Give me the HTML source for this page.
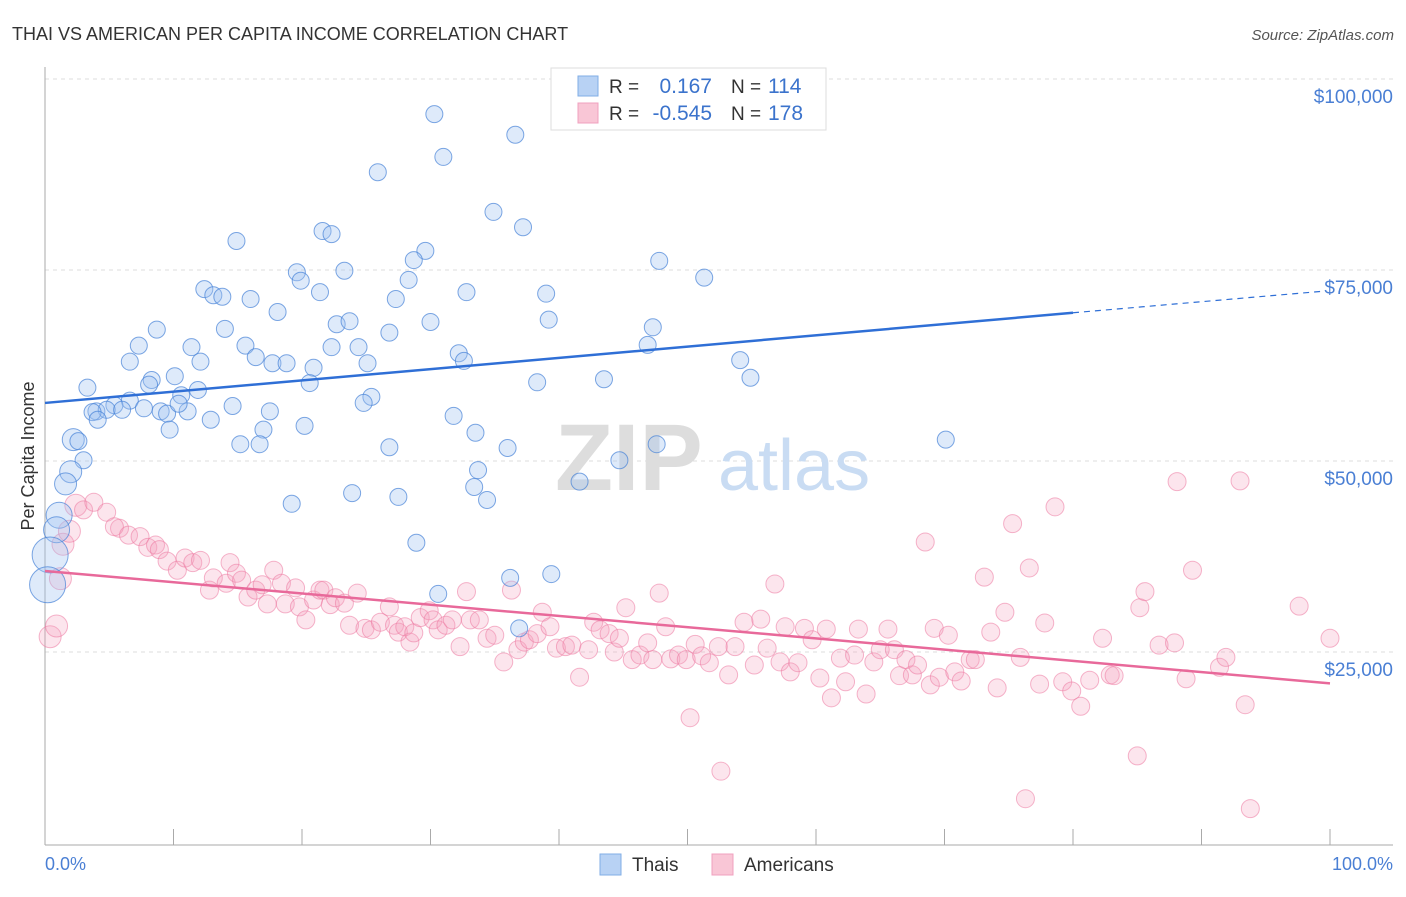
<!DOCTYPE html>
<html><head><meta charset="utf-8">
<style>
body{margin:0;background:#fff;font-family:"Liberation Sans",sans-serif;}
svg text{font-family:"Liberation Sans",sans-serif;}
</style></head>
<body>
<svg id="chart" width="1406" height="892" viewBox="0 0 1406 892">
<text x="12" y="40" font-size="18" fill="#333">THAI VS AMERICAN PER CAPITA INCOME CORRELATION CHART</text>
<text x="1394" y="40" font-size="15" fill="#555" font-style="italic" text-anchor="end">Source: ZipAtlas.com</text>
<g id="grid"></g>
<g>
<text x="555" y="490" font-size="95" fill="#ddd" font-family="Liberation Serif" font-weight="bold">ZIP</text>
<text x="718" y="490" font-size="72" fill="#c9dcf3">atlas</text>
</g>
<g id="axes"></g>
<g id="pink"></g>
<g id="blue"></g>
<g id="trends"></g>
<text transform="translate(34,456) rotate(-90)" font-size="18" fill="#333" text-anchor="middle">Per Capita Income</text>
<text x="45" y="870" font-size="18" fill="#4a7fd4">0.0%</text>
<text x="1393" y="870" font-size="18" fill="#4a7fd4" text-anchor="end">100.0%</text>
<g>
<rect x="551" y="68" width="275" height="62" fill="#fff" stroke="#ddd"/>
<rect x="578" y="76" width="20" height="20" fill="#b8d2f4" stroke="#80aee6"/>
<rect x="578" y="103" width="20" height="20" fill="#f9c6d6" stroke="#f0a0bf"/>
<text x="609" y="93" font-size="19" fill="#333">R =</text>
<text x="712" y="93" font-size="21" fill="#3b73cc" text-anchor="end">0.167</text>
<text x="731" y="93" font-size="19" fill="#333">N =</text>
<text x="768" y="93" font-size="21" fill="#3b73cc">114</text>
<text x="609" y="120" font-size="19" fill="#333">R =</text>
<text x="712" y="120" font-size="21" fill="#3b73cc" text-anchor="end">-0.545</text>
<text x="731" y="120" font-size="19" fill="#333">N =</text>
<text x="768" y="120" font-size="21" fill="#3b73cc">178</text>
</g>
<g>
<rect x="600" y="854" width="21" height="21" fill="#b8d2f4" stroke="#80aee6"/>
<text x="632" y="871" font-size="19" fill="#333">Thais</text>
<rect x="712" y="854" width="21" height="21" fill="#f9c6d6" stroke="#f0a0bf"/>
<text x="744" y="871" font-size="19" fill="#333">Americans</text>
</g>
</svg>
<script>
const yTicks=[25000,50000,75000,100000];
const yTickLabels=["$25,000","$50,000","$75,000","$100,000"];
const xTicks=[0,10,20,30,40,50,60,70,80,90,100];
const blueX=[30.3,36.6,31.0,25.9,34.9,37.2,14.9,21.6,22.3,29.6,47.8,51.3,28.7,19.6,23.3,19.9,28.3,12.4,13.1,13.8,21.4,32.8,39.0,16.0,27.3,18.1,39.2,30.0,22.7,23.7,8.7,14.0,26.8,47.3,46.9,7.3,11.4,15.6,22.3,24.4,32.2,32.6,12.1,6.6,16.4,17.7,18.8,20.9,25.1,54.1,3.3,8.3,8.1,10.1,11.9,10.6,20.6,38.3,43.5,54.9,25.4,24.8,6.6,5.4,4.0,4.8,6.0,3.7,7.7,9.0,9.5,11.1,14.6,10.4,12.9,17.5,4.1,31.8,9.7,17.0,20.2,33.5,2.2,2.6,15.2,16.7,26.8,36.0,47.6,70.1,3.0,44.7,33.7,2.0,1.6,23.9,27.5,33.4,34.4,19.2,41.6,1.1,0.9,0.4,0.2,28.9,36.2,39.4,30.6,36.9];
const blueY=[95.4,92.7,89.8,87.8,82.6,80.6,78.8,80.1,79.7,77.5,76.2,74.0,76.3,74.7,74.9,73.6,73.7,72.5,71.7,71.5,72.1,72.1,71.9,71.2,71.2,69.5,68.5,68.2,67.9,68.3,67.2,67.3,66.8,67.5,65.2,65.1,64.9,65.1,64.9,64.9,64.1,63.1,63.0,63.0,63.6,62.8,62.8,62.2,62.8,63.2,59.6,60.6,60.0,61.1,59.3,58.6,60.2,60.3,60.7,60.9,58.4,57.6,57.9,57.3,56.5,56.7,56.7,56.4,56.9,56.5,56.2,56.5,57.2,57.5,55.4,56.5,55.4,55.9,54.1,54.1,54.6,53.7,52.8,52.6,52.2,52.2,51.8,51.7,52.2,52.8,50.1,50.1,48.8,48.6,47.0,45.8,45.3,46.6,44.9,44.4,47.3,42.9,41.0,37.7,33.8,39.3,34.7,35.2,32.6,28.1];
const pinkX=[0.4,0.9,1.2,1.4,1.9,2.4,3.0,3.8,4.8,5.8,5.4,6.5,7.4,8.0,8.6,8.9,9.5,10.3,10.9,11.5,12.1,12.8,13.1,14.1,14.4,14.9,15.3,15.8,16.4,16.9,17.3,17.8,18.4,18.7,19.5,19.8,20.3,20.9,21.4,21.7,22.2,22.6,23.3,23.7,24.3,24.9,25.4,26.1,26.8,27.2,27.5,28.0,28.4,28.7,29.2,29.9,30.2,30.6,31.2,31.7,32.3,32.8,33.1,33.8,34.4,35.0,35.7,36.3,36.8,37.3,37.7,38.3,38.7,39.3,39.8,40.5,41.0,41.6,42.3,42.7,43.2,43.9,44.3,44.7,45.2,45.7,46.3,46.9,47.3,47.8,48.3,48.7,49.3,49.9,50.2,50.6,51.1,51.7,52.4,52.6,53.2,53.7,54.4,55.2,55.7,56.2,56.8,57.2,57.6,58.0,58.6,59.1,59.7,60.3,60.8,61.2,61.9,62.3,63.0,63.3,63.9,64.5,65.0,65.6,66.1,66.5,67.0,67.5,67.9,68.5,68.9,69.2,69.6,70.3,70.8,71.3,72.0,72.4,73.1,73.6,74.1,74.7,75.3,75.9,76.3,76.6,77.4,77.8,78.6,79.2,79.9,80.6,81.3,82.3,82.9,83.2,85.0,85.2,85.6,86.7,87.9,88.1,88.8,89.3,91.4,91.9,93.0,93.4,93.8,97.6,100.0];
const pinkY=[27.0,28.4,34.6,39.1,40.8,44.2,43.6,44.6,43.3,41.2,41.4,40.3,40.1,38.7,39.0,38.4,36.9,35.7,37.3,36.7,37.0,33.1,34.7,34.0,36.7,35.3,34.4,32.2,33.1,33.8,31.3,35.7,34.0,31.3,33.4,30.9,29.2,31.8,33.1,33.1,31.2,32.1,31.4,28.5,32.7,28.1,27.9,28.9,30.9,28.5,27.6,28.3,26.3,27.5,29.5,30.4,29.2,27.9,28.5,29.2,25.7,32.9,29.2,29.2,26.8,27.2,23.7,33.1,25.3,26.3,26.6,27.4,30.2,28.3,25.5,25.7,25.9,21.7,25.3,28.9,27.9,27.4,25.0,26.8,30.8,24.0,24.6,26.2,24.0,32.7,28.3,24.1,24.6,24.0,16.4,26.0,24.5,23.6,25.7,9.4,22.0,25.7,28.9,23.3,29.3,25.5,33.9,23.7,28.3,22.4,23.6,28.1,26.6,21.6,28.0,19.0,24.2,21.1,24.6,28.0,19.5,23.7,25.3,28.0,25.3,21.9,24.0,22.0,23.3,39.4,20.7,28.1,21.7,27.2,22.4,21.2,24.0,24.0,34.8,27.6,20.3,30.2,41.8,24.3,5.8,36.0,20.8,28.8,44.0,21.1,19.9,17.9,21.3,26.8,22.0,21.9,11.4,30.8,32.9,25.9,26.2,47.3,21.5,35.7,23.0,24.3,47.4,18.1,4.5,31.0,26.8];
const blueTrendX=[0,80,99.3];
const blueTrendY=[57.6,69.4,72.2];
const pinkTrendX=[0,100];
const pinkTrendY=[35.6,20.9];

const NS="http://www.w3.org/2000/svg";
const X0=45,X1=1330,YB=843,PX=191/25000;
const sx=v=>X0+(X1-X0)*v/100;
const sy=v=>YB-v*PX;
const syk=v=>sy(v*1000);
function mk(tag,attrs,parent){const e=document.createElementNS(NS,tag);for(const k in attrs)e.setAttribute(k,attrs[k]);parent.appendChild(e);return e;}
const grid=document.getElementById('grid'),axes=document.getElementById('axes');
yTicks.forEach((t,i)=>{
 const l=mk('line',{x1:X0,x2:1393,y1:sy(t),y2:sy(t),stroke:'#ddd','stroke-dasharray':'4,4'},grid);
 
 
 const tx=mk('text',{x:1393,y:sy(t)+24,'font-size':19,fill:'#4a7fd4','text-anchor':'end'},grid);
 tx.textContent=yTickLabels[i];
 
 
});
const tg=mk('line',{x1:X0,x2:1393,y1:79,y2:79,stroke:'#ddd','stroke-dasharray':'4,4'},grid);


const ya=mk('line',{x1:X0,x2:X0,y1:67,y2:845,stroke:'#aaa'},axes);


const xa=mk('line',{x1:X0,x2:1393,y1:845,y2:845,stroke:'#aaa'},axes);


xTicks.forEach(t=>{
 const l=mk('line',{x1:sx(t),x2:sx(t),y1:829,y2:845,stroke:'#aaa'},axes);
 
 
});
const pg=document.getElementById('pink');
pinkX.forEach((x,i)=>{
 const r=x<3?11:9;
 const c=mk('circle',{cx:sx(x),cy:syk(pinkY[i]),r:r,fill:'rgba(245,160,190,0.28)',stroke:'rgba(236,120,160,0.55)','stroke-width':1},pg);
 
 
});
const bg=document.getElementById('blue');
blueX.forEach((x,i)=>{
 const r=x<0.5?18:x<1.5?13:x<2.5?11:8.5;
 const c=mk('circle',{cx:sx(x),cy:syk(blueY[i]),r:r,fill:'rgba(160,196,240,0.35)',stroke:'rgba(70,130,215,0.7)','stroke-width':1},bg);
 
 
});
const tr=document.getElementById('trends');
const b1=mk('line',{x1:sx(blueTrendX[0]),y1:syk(blueTrendY[0]),x2:sx(blueTrendX[1]),y2:syk(blueTrendY[1]),stroke:'#2f6fd6','stroke-width':2.5},tr);


const b2=mk('line',{x1:sx(blueTrendX[1]),y1:syk(blueTrendY[1]),x2:sx(blueTrendX[2]),y2:syk(blueTrendY[2]),stroke:'#2f6fd6','stroke-width':1.2,'stroke-dasharray':'6,5'},tr);


const p1=mk('line',{x1:sx(pinkTrendX[0]),y1:syk(pinkTrendY[0]),x2:sx(pinkTrendX[1]),y2:syk(pinkTrendY[1]),stroke:'#e8699a','stroke-width':2.5},tr);


</script>
</body></html>
